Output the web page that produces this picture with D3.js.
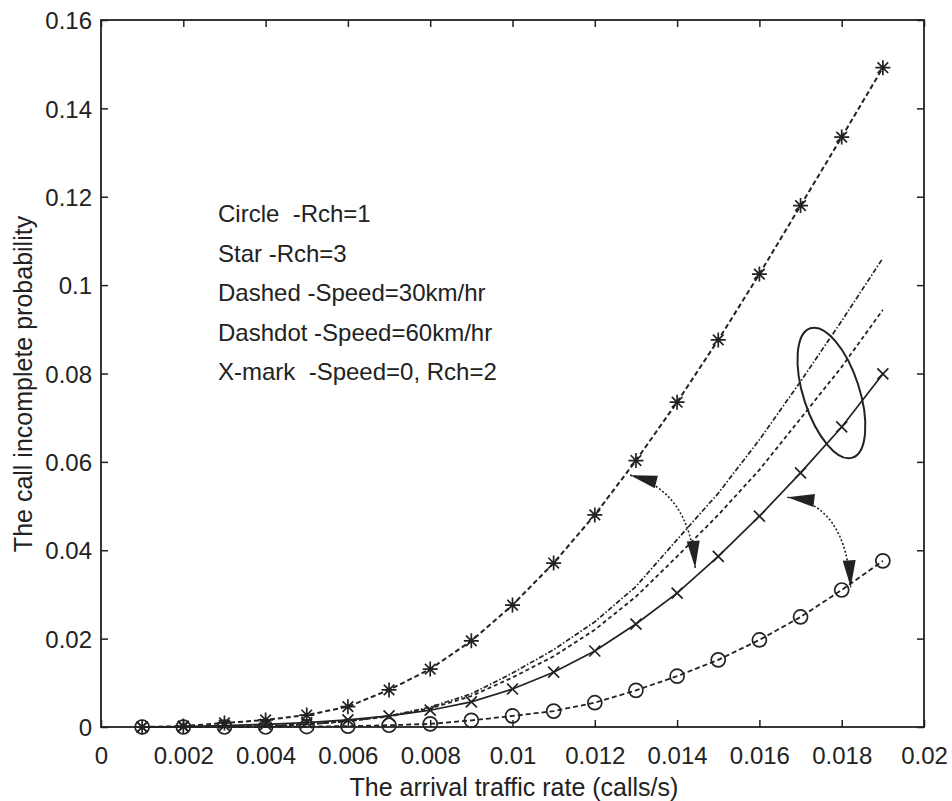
<!DOCTYPE html>
<html><head><meta charset="utf-8">
<script src="https://cdn.jsdelivr.net/npm/d3@7"></script>
<style>
body{margin:0;background:#fff}
text{font-family:"Liberation Sans",Arial,sans-serif;fill:#222}
</style></head>
<body><svg id="chart" width="952" height="801"></svg>
<script>
// ---- data ----
const rate      = [0.001,0.002,0.003,0.004,0.005,0.006,0.007,0.008,0.009,0.010,0.011,0.012,0.013,0.014,0.015,0.016,0.017,0.018,0.019];
const starRch3  = [0.0000,0.0002,0.0009,0.0016,0.0027,0.0046,0.0084,0.0131,0.0195,0.0276,0.0371,0.0480,0.0603,0.0735,0.0876,0.1025,0.1180,0.1335,0.1492];
const dashdot60 = [0.0000,0.0000,0.0001,0.0002,0.0006,0.0013,0.0025,0.0045,0.0075,0.0122,0.0175,0.0238,0.0318,0.0424,0.0529,0.0650,0.0782,0.0919,0.1061];
const dashed30  = [0.0000,0.0000,0.0001,0.0002,0.0006,0.0013,0.0024,0.0042,0.0070,0.0112,0.0160,0.0220,0.0295,0.0386,0.0480,0.0582,0.0698,0.0815,0.0944];
const xmarkSpeed0=[0.0000,0.0001,0.0003,0.0006,0.0010,0.0016,0.0025,0.0038,0.0057,0.0086,0.0124,0.0172,0.0233,0.0303,0.0386,0.0477,0.0575,0.0679,0.0799];
const circleRch1= [0.0000,0.0000,0.0000,0.0000,0.0001,0.0002,0.0004,0.0007,0.0015,0.0025,0.0036,0.0055,0.0083,0.0115,0.0152,0.0197,0.0249,0.0310,0.0376];
const xTicks = [0,0.002,0.004,0.006,0.008,0.01,0.012,0.014,0.016,0.018,0.02];
const xTickLabels = ["0","0.002","0.004","0.006","0.008","0.01","0.012","0.014","0.016","0.018","0.02"];
const yTicks = [0,0.02,0.04,0.06,0.08,0.1,0.12,0.14,0.16];
const yTickLabels = ["0","0.02","0.04","0.06","0.08","0.1","0.12","0.14","0.16"];
const legendLines = ["Circle  -Rch=1","Star -Rch=3","Dashed -Speed=30km/hr","Dashdot -Speed=60km/hr","X-mark  -Speed=0, Rch=2"];
const xTitle = "The arrival traffic rate (calls/s)";
const yTitle = "The call incomplete probability";
// annotation anchors in data units: [x, y]
const arrow1 = [[0.01286,0.0570],[0.01430,0.0535],[0.01444,0.0360]];
const arrow2 = [[0.01668,0.0520],[0.01810,0.0504],[0.01822,0.0316]];
const ellipseCenter = [0.01775,0.0756];

// ---- layout ----
const L=101,R=924,T=20,B=727;
const svg=d3.select("#chart");
const x=d3.scaleLinear().domain([0,0.02]).range([L,R]);
const y=d3.scaleLinear().domain([0,0.16]).range([B,T]);
const ink="#222";

// frame
svg.append("rect").attr("x",L).attr("y",T).attr("width",R-L).attr("height",B-T)
  .attr("fill","none").attr("stroke",ink).attr("stroke-width",1.8);

// axes with inward ticks
const tl=7;
const gx=svg.append("g").attr("transform",`translate(0,${B})`)
  .call(d3.axisBottom(x).tickValues(xTicks).tickSizeInner(-tl).tickSizeOuter(0).tickPadding(20)
    .tickFormat((d,i)=>xTickLabels[i]));
const gxt=svg.append("g").attr("transform",`translate(0,${T})`)
  .call(d3.axisTop(x).tickValues(xTicks).tickSizeInner(-tl).tickSizeOuter(0).tickFormat(""));
const gy=svg.append("g").attr("transform",`translate(${L},0)`)
  .call(d3.axisLeft(y).tickValues(yTicks).tickSizeInner(-tl).tickSizeOuter(0).tickPadding(9)
    .tickFormat((d,i)=>yTickLabels[i]));
const gyr=svg.append("g").attr("transform",`translate(${R},0)`)
  .call(d3.axisRight(y).tickValues(yTicks).tickSizeInner(-tl).tickSizeOuter(0).tickFormat(""));
[gx,gxt,gy,gyr].forEach(g=>{
  g.select(".domain").remove();
  g.selectAll(".tick line").attr("stroke",ink).attr("stroke-width",1.5);
  g.selectAll("text").attr("fill",ink).style("font-size","24px").attr("font-family","Liberation Sans, Arial, sans-serif");
});
gx.selectAll("text").attr("dy","0.71em");
gy.selectAll("text").attr("dy","0.36em");

// titles
svg.append("text").attr("x",514).attr("y",796).attr("text-anchor","middle")
  .style("font-size","25px").text(xTitle);
svg.append("text").attr("transform",`translate(32,384) rotate(-90)`).attr("text-anchor","middle")
  .style("font-size","25px").text(yTitle);

// series
const pts=v=>rate.map((r,i)=>[x(r),y(v[i])]);
const line=d3.line();
function drawLine(v,dash,w){
  svg.append("path").attr("d",line(pts(v))).attr("fill","none").attr("stroke",ink)
    .attr("stroke-width",w).attr("stroke-dasharray",dash);
}
drawLine(starRch3,"5,3",2);
drawLine(dashdot60,"5,2,1.5,2",1.7);
drawLine(dashed30,"4,3",1.8);
drawLine(xmarkSpeed0,null,1.7);
drawLine(circleRch1,"5,3",1.8);

// markers
const gs=svg.append("g").attr("stroke",ink).attr("stroke-width",1.7).attr("fill","none");
pts(starRch3).forEach(([px,py])=>{
  const s=7.5,d=5.3;
  gs.append("path").attr("d",`M${px-s},${py}H${px+s}M${px},${py-s}V${py+s}M${px-d},${py-d}L${px+d},${py+d}M${px-d},${py+d}L${px+d},${py-d}`);
});
pts(xmarkSpeed0).forEach(([px,py])=>{
  const d=5.5;
  gs.append("path").attr("d",`M${px-d},${py-d}L${px+d},${py+d}M${px-d},${py+d}L${px+d},${py-d}`);
});
pts(circleRch1).forEach(([px,py])=>{
  gs.append("circle").attr("cx",px).attr("cy",py).attr("r",7);
});

// legend text
svg.append("g").selectAll("text").data(legendLines).join("text")
  .attr("x",218).attr("y",(d,i)=>222+i*39.5).style("font-size","24px")
  .attr("xml:space","preserve").style("white-space","pre").text(d=>d);

// ellipse annotation
svg.append("ellipse").attr("cx",0).attr("cy",0).attr("rx",28).attr("ry",68)
  .attr("transform",`translate(${x(ellipseCenter[0])},${y(ellipseCenter[1])}) rotate(-18)`)
  .attr("fill","none").attr("stroke",ink).attr("stroke-width",2);

// arrows
const defs=svg.append("defs");
defs.append("marker").attr("id","ah").attr("viewBox","-30 -8 32 16").attr("refX",0).attr("refY",0)
  .attr("markerWidth",32).attr("markerHeight",16).attr("markerUnits","userSpaceOnUse")
  .attr("orient","auto-start-reverse")
  .append("path").attr("d","M0,0L-27,-6.5L-27,6.5Z").attr("fill",ink);
[arrow1,arrow2].forEach(a=>{
  const p=a.map(d=>[x(d[0]),y(d[1])]);
  svg.append("path").attr("d",`M${p[0][0]},${p[0][1]}Q${p[1][0]},${p[1][1]} ${p[2][0]},${p[2][1]}`)
    .attr("fill","none").attr("stroke",ink).attr("stroke-width",1.6).attr("stroke-dasharray","2,2")
    .attr("marker-start","url(#ah)").attr("marker-end","url(#ah)");
});
</script></body></html>
